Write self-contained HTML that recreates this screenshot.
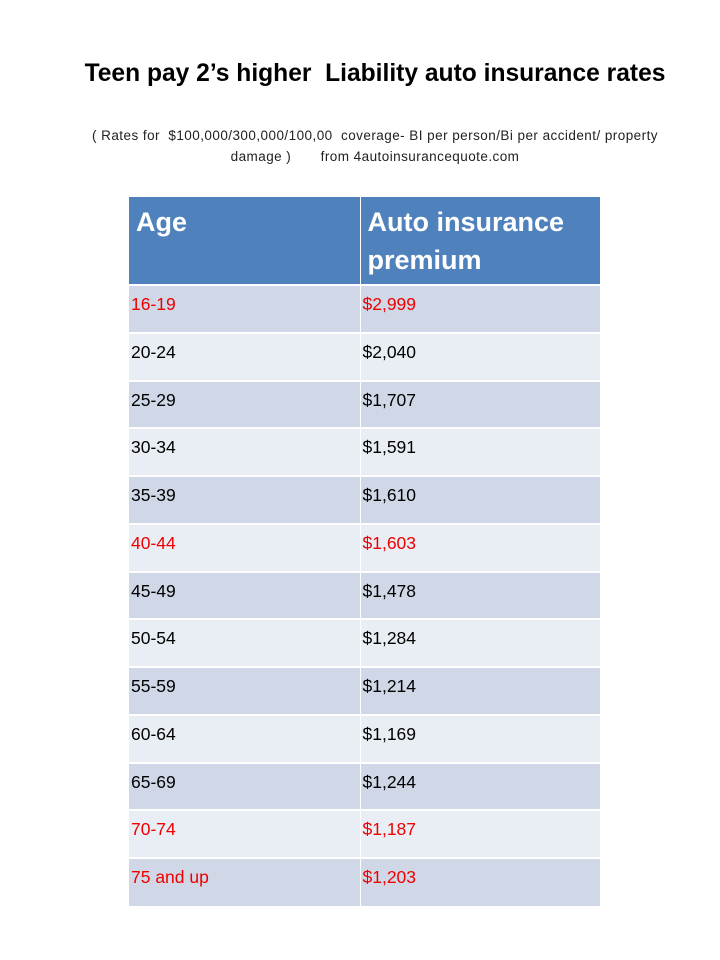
<!DOCTYPE html>
<html><head><meta charset="utf-8"><style>
body{margin:0;width:720px;height:960px;background:#fff;font-family:"Liberation Sans",sans-serif;position:relative;overflow:hidden}
.t{position:absolute;left:0;width:750px;text-align:center;font-weight:bold;font-size:24.6px;top:60px;color:#000;white-space:nowrap}
.s{position:absolute;left:40px;width:670px;text-align:center;font-size:13.5px;letter-spacing:0.45px;top:125px;line-height:21px;color:#222;white-space:nowrap}
table{position:absolute;left:129px;top:197px;border-collapse:collapse;width:471px}
td{padding:0;vertical-align:top;font-size:17.5px;height:47.75px;box-sizing:border-box;padding-top:8px;padding-left:2px;border-top:2px solid #fff}
td.a{width:231px;border-right:1px solid #fff}
tr.h td{background:#4f81bd;color:#fff;font-weight:bold;font-size:27px;height:88px;padding-top:6px;padding-left:7px;line-height:38px;border-top:none}
tr.d td{background:#d0d8e8}tr.l td{background:#e9edf4}
.r td{color:#e00}
</style></head><body>
<div class="t">Teen pay 2’s higher&nbsp; Liability auto insurance rates</div>
<div class="s">( Rates for&nbsp; $100,000/300,000/100,00&nbsp; coverage- BI per person/Bi per accident/ property<br>damage )&nbsp;&nbsp;&nbsp;&nbsp;&nbsp;&nbsp; from 4autoinsurancequote.com</div>
<table>
<tr class="h"><td class="a">Age</td><td>Auto insurance premium</td></tr>
<tr class="d r"><td class="a">16-19</td><td>$2,999</td></tr>
<tr class="l"><td class="a">20-24</td><td>$2,040</td></tr>
<tr class="d"><td class="a">25-29</td><td>$1,707</td></tr>
<tr class="l"><td class="a">30-34</td><td>$1,591</td></tr>
<tr class="d"><td class="a">35-39</td><td>$1,610</td></tr>
<tr class="l r"><td class="a">40-44</td><td>$1,603</td></tr>
<tr class="d"><td class="a">45-49</td><td>$1,478</td></tr>
<tr class="l"><td class="a">50-54</td><td>$1,284</td></tr>
<tr class="d"><td class="a">55-59</td><td>$1,214</td></tr>
<tr class="l"><td class="a">60-64</td><td>$1,169</td></tr>
<tr class="d"><td class="a">65-69</td><td>$1,244</td></tr>
<tr class="l r"><td class="a">70-74</td><td>$1,187</td></tr>
<tr class="d r"><td class="a">75 and up</td><td>$1,203</td></tr>
</table>
</body></html>
